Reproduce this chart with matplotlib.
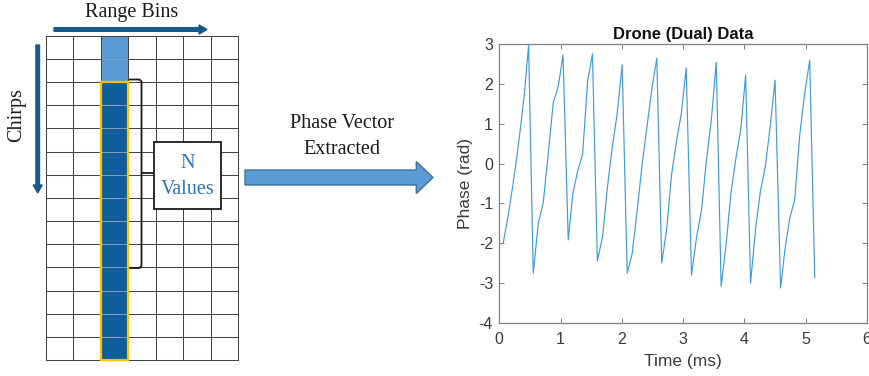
import matplotlib
matplotlib.use("Agg")
import matplotlib.pyplot as plt
from matplotlib.patches import Rectangle, FancyArrow
import numpy as np

plt.rcParams['axes.unicode_minus'] = False

# ---------------- data ----------------
time_ms = [0.065, 0.147, 0.217, 0.283, 0.348, 0.413, 0.478, 0.554, 0.636, 0.717,
           0.800, 0.880, 0.962, 1.040, 1.125, 1.200, 1.277, 1.360, 1.440, 1.520,
           1.600, 1.685, 1.760, 1.840, 1.920, 2.005, 2.087, 2.168, 2.250, 2.330,
           2.410, 2.490, 2.570, 2.650, 2.730, 2.810, 2.890, 2.970, 3.050, 3.136,
           3.220, 3.300, 3.380, 3.460, 3.540, 3.620, 3.700, 3.780, 3.860, 3.940,
           4.020, 4.100, 4.185, 4.260, 4.340, 4.420, 4.500, 4.590, 4.660, 4.740,
           4.820, 4.900, 4.980, 5.065, 5.147]
phase_rad = [-1.99, -1.29, -0.58, 0.13, 0.93, 1.81, 2.98, -2.76, -1.50, -0.98,
             0.26, 1.53, 1.94, 2.73, -1.92, -0.75, -0.20, 0.24, 2.06, 2.76,
             -2.45, -1.84, -0.65, 0.38, 1.22, 2.48, -2.76, -2.26, -1.17, -0.03,
             0.93, 1.89, 2.65, -2.50, -1.67, -0.29, 0.55, 1.26, 2.41, -2.80,
             -1.84, -1.17, 0.09, 1.10, 2.55, -3.09, -2.05, -0.75, 0.13, 0.85,
             2.23, -3.01, -1.59, -0.70, -0.08, 0.93, 2.10, -3.13, -2.17, -1.37,
             -0.91, 0.68, 1.73, 2.60, -2.86]

x_ticks = [0, 1, 2, 3, 4, 5, 6]
y_ticks = [-4, -3, -2, -1, 0, 1, 2, 3]

n_cols = 7
n_rows = 14
sel_col = 2
light_rows = [0, 1]

title = "Drone (Dual) Data"
xlabel = "Time (ms)"
ylabel = "Phase (rad)"

# ---------------- figure ----------------
W, H = 869, 376
fig = plt.figure(figsize=(W / 100, H / 100), dpi=100)
fig.patch.set_facecolor('white')

# overlay axes in pixel coordinates for the diagram
ax0 = fig.add_axes([0, 0, 1, 1])
ax0.set_xlim(0, W)
ax0.set_ylim(H, 0)
ax0.axis('off')

gx0, gx1 = 46.0, 238.3
gy0, gy1 = 35.7, 360.0
cw = (gx1 - gx0) / n_cols
rh = (gy1 - gy0) / n_rows

light_blue = '#5B9BD5'
dark_blue = '#0F5E9C'
serif = ['Liberation Serif', 'DejaVu Serif']

for r in range(n_rows):
    fc = light_blue if r in light_rows else dark_blue
    ax0.add_patch(Rectangle((gx0 + sel_col * cw, gy0 + r * rh), cw, rh,
                            facecolor=fc, edgecolor='none', zorder=1))

for c in range(n_cols + 1):
    x = gx0 + c * cw
    ax0.plot([x, x], [gy0, gy1], color='#444444', lw=0.75, zorder=2)
for r in range(n_rows + 1):
    y = gy0 + r * rh
    ax0.plot([gx0, gx1], [y, y], color='#444444', lw=0.75, zorder=2)
# lighter inner lines in dark column
for r in range(1, n_rows):
    y = gy0 + r * rh
    ax0.plot([gx0 + sel_col * cw + 1, gx0 + (sel_col + 1) * cw - 1], [y, y],
             color='#7f9fb8', lw=0.75, zorder=3)

# yellow outline
ax0.add_patch(Rectangle((gx0 + sel_col * cw, gy0 + len(light_rows) * rh), cw,
                        gy1 - (gy0 + len(light_rows) * rh),
                        facecolor='none', edgecolor='#FFC000', lw=1.6, zorder=4))

# Range Bins arrow + label
arrow_col = '#17598C'
ax0.add_patch(FancyArrow(54, 29.5, 153, 0, width=3.6, head_width=9, head_length=8,
                         length_includes_head=True, color=arrow_col, zorder=5))
ax0.text(132, 13, "Range Bins", family=serif, fontsize=14.5, ha='center',
         va='center', color='#1a1a1a')

# Chirps arrow + label
ax0.add_patch(FancyArrow(37.7, 45, 0, 148, width=3.6, head_width=9, head_length=8,
                         length_includes_head=True, color=arrow_col, zorder=5))
ax0.text(17, 115, "Chirps", family=serif, fontsize=14.5, ha='center',
         va='center', rotation=90, color='#1a1a1a')

# bracket
bx = 141.5
ax0.plot([130, bx - 2, bx, bx, bx - 2, 130],
         [79.5, 79.5, 81.5, 266, 268, 268], color='#1a1a1a', lw=1.3, zorder=5)
ax0.plot([bx, 154], [173, 173], color='#1a1a1a', lw=1.3, zorder=5)

# N Values box
ax0.add_patch(Rectangle((154, 141.7), 66.7, 67.3, facecolor='white',
                        edgecolor='#1a1a1a', lw=1.3, zorder=6))
ax0.text(187.3, 163, "N", family=serif, fontsize=14.5, ha='center', va='center',
         color='#2E75B6', zorder=7)
ax0.text(187.3, 189, "Values", family=serif, fontsize=14.5, ha='center',
         va='center', color='#2E75B6', zorder=7)

# Phase Vector Extracted arrow
ax0.add_patch(FancyArrow(245, 177.5, 188, 0, width=15, head_width=32,
                         head_length=16.7, length_includes_head=True,
                         facecolor='#5B9BD5', edgecolor='#41719C', lw=1.0,
                         zorder=5))
ax0.text(341.7, 123, "Phase Vector", family=serif, fontsize=14.5, ha='center',
         va='center', color='#1a1a1a')
ax0.text(341.7, 149, "Extracted", family=serif, fontsize=14.5, ha='center',
         va='center', color='#1a1a1a')

# ---------------- chart ----------------
px0, px1 = 499.3, 867.0
py0, py1 = 44.3, 322.7
ax = fig.add_axes([px0 / W, 1 - py1 / H, (px1 - px0) / W, (py1 - py0) / H])
ax.plot(time_ms, phase_rad, color='#3F9BDA', lw=0.85)
ax.set_xlim(0, 6)
ax.set_ylim(-4, 3)
ax.set_xticks(x_ticks)
ax.set_yticks(y_ticks)

sans = ['Liberation Sans', 'DejaVu Sans']
spine_col = '#808080'
text_col = '#3a3a3a'
for s in ax.spines.values():
    s.set_color(spine_col)
    s.set_linewidth(0.9)
ax.tick_params(direction='in', top=True, right=True, length=3.5, width=0.7,
               colors=spine_col, labelcolor=text_col, labelsize=11.5)
ax.tick_params(axis='x', pad=6.5)
ax.tick_params(axis='y', pad=4.5)
for lab in ax.get_xticklabels() + ax.get_yticklabels():
    lab.set_family(sans)
ax.set_title(title, family=sans, fontsize=12, fontweight='bold', color='#111111',
             pad=4)
ax.set_xlabel(xlabel, family=sans, fontsize=12.5, color=text_col, labelpad=5)
ax.set_ylabel(ylabel, family=sans, fontsize=12.5, color=text_col, labelpad=4)

fig.savefig('out.png', dpi=100, facecolor='white')
